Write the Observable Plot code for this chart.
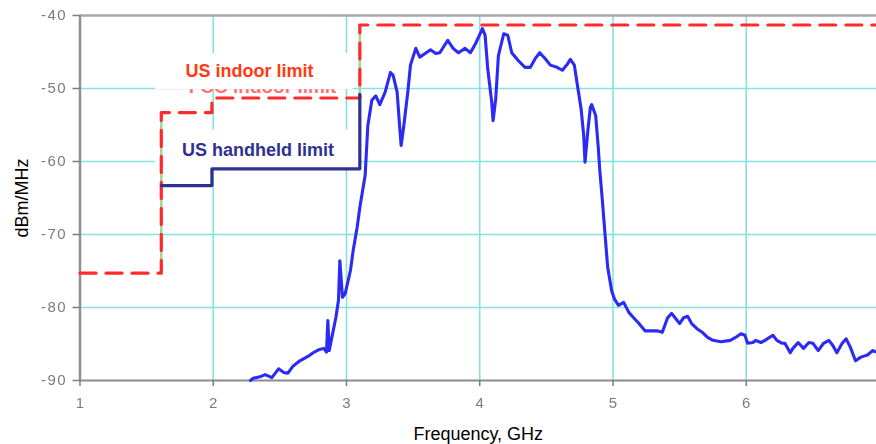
<!DOCTYPE html>
<html>
<head>
<meta charset="utf-8">
<script src="https://cdn.jsdelivr.net/npm/d3@7"></script>
<script src="https://cdn.jsdelivr.net/npm/@observablehq/plot@0.6"></script>
<style>
  html, body { margin: 0; padding: 0; background: #fff; }
  #chart svg { display: block; }
  #chart [aria-label$="tick label"] { filter: blur(0.45px); }
  #chart [aria-label="y-axis tick label"] text { letter-spacing: 1.4px; }
</style>
</head>
<body>
<div id="chart"></div>
<script>
// Axis ticks and grid
const freqTicks = [1, 2, 3, 4, 5, 6, 7];
const levelTicks = [-40, -50, -60, -70, -80, -90];
const gridFreqs = [2, 3, 4, 5, 6];
const gridLevels = [-50, -60, -70, -80];

// FCC / US indoor emission limit (dBm/MHz), step changes at each frequency
const indoorFreq = [1, 1.61, 1.99, 3.1, 7];
const indoorLevel = [-75.3, -53.3, -51.3, -41.3, -41.3];

// US handheld limit, drawn up to where it joins the indoor mask
const handheldFreq = [1.61, 1.99, 3.1];
const handheldLevel = [-63.3, -61.0, -50.8];

// Measured UWB spectrum
const spectrumFreq = [
  2.28, 2.30, 2.35, 2.39, 2.44, 2.49, 2.53, 2.56, 2.60, 2.65, 2.71, 2.75, 2.79, 2.83, 2.85, 2.86, 2.87, 2.89,
  2.92, 2.94, 2.95, 2.97, 2.99, 3.03, 3.05, 3.08, 3.10, 3.14, 3.16, 3.19, 3.22, 3.25, 3.29, 3.33, 3.35, 3.38,
  3.40, 3.41, 3.43, 3.46, 3.48, 3.52, 3.55, 3.59, 3.63, 3.67, 3.70, 3.76, 3.80, 3.84, 3.89, 3.93, 3.97, 4.02,
  4.04, 4.06, 4.09, 4.10, 4.12, 4.14, 4.18, 4.21, 4.24, 4.29, 4.34, 4.38, 4.42, 4.45, 4.49, 4.53, 4.58, 4.62,
  4.66, 4.68, 4.71, 4.73, 4.76, 4.78, 4.79, 4.81, 4.83, 4.84, 4.87, 4.89, 4.90, 4.92, 4.94, 4.96, 4.99, 5.01,
  5.04, 5.08, 5.12, 5.16, 5.19, 5.24, 5.28, 5.33, 5.37, 5.41, 5.44, 5.47, 5.50, 5.53, 5.56, 5.59, 5.63, 5.67,
  5.71, 5.75, 5.81, 5.88, 5.92, 5.96, 5.99, 6.01, 6.05, 6.07, 6.11, 6.14, 6.20, 6.23, 6.27, 6.29, 6.33, 6.35,
  6.39, 6.43, 6.47, 6.50, 6.54, 6.58, 6.62, 6.65, 6.68, 6.72, 6.75, 6.78, 6.82, 6.86, 6.91, 6.95, 6.99
];
const spectrumLevel = [
  -90.0, -89.7, -89.5, -89.2, -89.6, -88.4, -88.9, -89.0, -88.0, -87.3, -86.7, -86.2, -85.8, -85.6, -86.1, -81.8, -85.9, -84.1,
  -81.4, -79.0, -73.6, -78.6, -78.1, -74.9, -72.2, -69.0, -66.3, -61.9, -55.1, -51.6, -51.0, -52.2, -50.5, -47.8, -48.2, -50.5,
  -55.5, -57.8, -55.1, -50.5, -46.8, -44.5, -45.7, -45.2, -44.7, -45.2, -45.1, -43.4, -44.5, -45.1, -44.5, -45.1, -43.8, -41.8,
  -42.7, -47.3, -51.9, -54.4, -51.4, -45.5, -42.5, -42.7, -45.1, -46.2, -47.1, -47.1, -45.8, -45.1, -45.9, -46.8, -47.1, -47.5,
  -46.6, -46.0, -46.8, -49.2, -52.7, -56.4, -60.1, -56.0, -52.6, -52.2, -53.7, -58.2, -61.0, -65.3, -69.9, -74.5, -77.7, -78.8,
  -79.7, -79.3, -80.7, -81.5, -82.1, -83.2, -83.2, -83.2, -83.4, -81.4, -80.8, -81.5, -82.2, -81.4, -81.2, -82.2, -82.9, -83.4,
  -84.1, -84.5, -84.7, -84.5, -84.1, -83.6, -83.8, -84.9, -84.8, -84.5, -84.8, -84.5, -83.8, -84.5, -84.9, -84.9, -86.2, -85.6,
  -84.8, -85.6, -84.8, -84.9, -85.9, -84.9, -84.5, -85.2, -86.2, -84.9, -84.3, -85.4, -87.3, -86.8, -86.5, -85.9, -86.2
];

// Annotation labels and the white panels behind them
const labelText = ["US indoor limit", "US handheld limit"];
const labelColor = ["#ff3a12", "#2e3192"];
const labelFreq = [2.272, 2.335];
const labelLevel = [-48.4, -59.25];
const panelFreqStart = [1.566, 1.566];
const panelFreqEnd = [3.05, 3.1];
const panelTop = [-45.2, -55.7];
const panelBottom = [-50.15, -61.0];
const oldLabel = ["FCC indoor limit"];
const oldLabelFreq = [2.37];
const oldLabelLevel = [-50.55];

const xTitle = "Frequency, GHz";
const yTitle = "dBm/MHz";

const pts = (xs, ys) => xs.map((f, i) => ({f, v: ys[i]}));
const idx = (a) => a.map((_, i) => i);

const panels = panelTop.map((t, i) => ({
  a: panelFreqStart[i], b: panelFreqEnd[i], top: t, bottom: panelBottom[i]
}));

const font = "'Liberation Sans', Arial, Helvetica, sans-serif";

const chart = Plot.plot({
  width: 876,
  height: 444,
  marginLeft: 79.5,
  marginRight: 0,
  marginTop: 15,
  marginBottom: 64,
  style: {fontFamily: font, background: "#fff", overflow: "hidden"},
  x: {domain: [1, 7], range: [79.5, 879]},
  y: {domain: [-90, -40]},
  marks: [
    Plot.gridX(gridFreqs, {stroke: "#84e2e2", strokeOpacity: 1, strokeWidth: 1.6}),
    Plot.gridY(gridLevels, {stroke: "#84e2e2", strokeOpacity: 1, strokeWidth: 1.6}),

    // original mask caption, mostly hidden by the panel above it
    Plot.text(oldLabel, {
      x: () => oldLabelFreq[0], y: () => oldLabelLevel[0], text: (d) => d,
      fill: "#ff7070", fontSize: 19, fontWeight: "bold", lineAnchor: "bottom"
    }),
    Plot.rect(panels, {x1: "a", x2: "b", y1: "top", y2: "bottom", fill: "#ffffff"}),

    // frame
    Plot.ruleY([-40], {stroke: "#a8a8a8", strokeWidth: 2.5}),
    Plot.ruleY([-90], {stroke: "#8c8c8c", strokeWidth: 2}),
    Plot.ruleX([1], {stroke: "#909090", strokeWidth: 2.5}),
    Plot.axisY(levelTicks, {
      tickSize: 7, tickPadding: 6, fontSize: 15, color: "#7c7c7c",
      strokeWidth: 1.5, label: null, tickFormat: (d) => String(d)
    }),
    Plot.axisX(freqTicks, {
      tickSize: 6, tickPadding: 11, fontSize: 15, color: "#7c7c7c",
      strokeWidth: 1.5, label: null, tickFormat: (d) => String(d)
    }),

    // limit masks
    Plot.ruleX(idx([0, 1]), {
      x: (i) => [indoorFreq[1], indoorFreq[3]][i],
      y1: (i) => [indoorLevel[0], indoorLevel[2]][i],
      y2: (i) => [indoorLevel[1], indoorLevel[3]][i],
      stroke: "#9fd69a", strokeWidth: 2.5
    }),
    Plot.line(pts(indoorFreq, indoorLevel), {
      x: "f", y: "v", curve: "step-after",
      stroke: "#ff2b2b", strokeWidth: 3.2, strokeDasharray: "16,10"
    }),
    Plot.line(pts(handheldFreq, handheldLevel), {
      x: "f", y: "v", curve: "step-after",
      stroke: "#2e3192", strokeWidth: 3.2
    }),

    // spectrum
    Plot.line(pts(spectrumFreq, spectrumLevel), {
      x: "f", y: "v", stroke: "#2b2bf4", strokeWidth: 3.1, strokeLinejoin: "round"
    }),

    // annotations
    Plot.text(idx(labelText), {
      x: (i) => labelFreq[i], y: (i) => labelLevel[i], text: (i) => labelText[i],
      fill: (i) => labelColor[i], fontSize: 18, fontWeight: "bold", lineAnchor: "bottom"
    }),

    // axis titles
    Plot.text([xTitle], {
      frameAnchor: "bottom", dy: 59, lineAnchor: "bottom", textAnchor: "middle",
      fontSize: 18, fill: "#000"
    }),
    Plot.text([yTitle], {
      frameAnchor: "left", dx: -52, rotate: -90, lineAnchor: "bottom", textAnchor: "middle",
      fontSize: 18, fill: "#000"
    })
  ]
});

document.getElementById("chart").append(chart);
</script>
</body>
</html>
